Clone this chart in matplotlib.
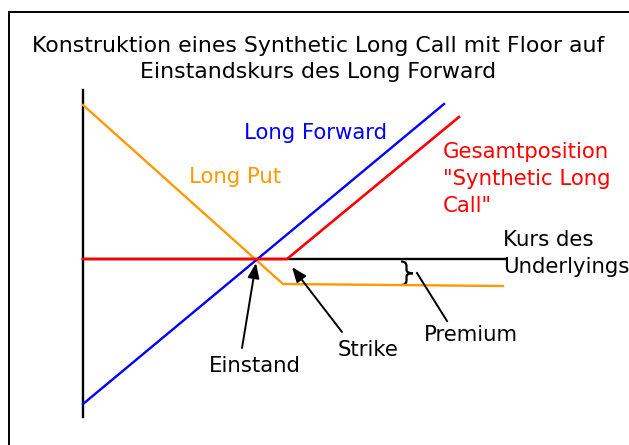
import numpy as np
import matplotlib
matplotlib.use("Agg")
import matplotlib.pyplot as plt
from matplotlib.path import Path
from matplotlib.patches import PathPatch, Rectangle

# --- payoff lines (underlying price on x, profit on y) ---
forward_x = [0.0, 36.1]
forward_y = [-14.5, 15.5]

put_x = [0.0, 20.0, 42.0]
put_y = [15.4, -2.5, -2.7]

total_x = [0.0, 20.4, 37.6]
total_y = [0.0, 0.0, 14.2]

einstand = 17.3
strike = 20.4
premium = 2.6

x_axis_end = 42.2
y_axis_range = [-15.8, 16.9]

ORANGE = "#FF9900"
BLUE = "#0000FF"
RED = "#FF0000"

fig = plt.figure(figsize=(6.29, 4.45), dpi=100)
ax = fig.add_axes([0, 0, 1, 1])
ax.set_xlim(-8.3, 54.6)
ax.set_ylim(-18.6, 25.9)
ax.axis("off")

# frame (cut off at right/bottom like the original slide)
fig.patches.append(Rectangle((9 / 629, -0.1), 1.2, 1 - 12 / 445 + 0.1,
                             transform=fig.transFigure, fill=False,
                             edgecolor="black", linewidth=1.4))

# axes
ax.plot([0, 0], y_axis_range, color="black", lw=1.7, zorder=1)
ax.plot([0, x_axis_end], [0, 0], color="black", lw=1.7, zorder=1)

ax.plot(put_x, put_y, color=ORANGE, lw=1.7, zorder=2)
ax.plot(forward_x, forward_y, color=BLUE, lw=1.7, zorder=3)
ax.plot(total_x, total_y, color=RED, lw=1.9, zorder=4)

fs = 15.3
ax.text(23.5, 20.0, "Konstruktion eines Synthetic Long Call mit Floor auf\nEinstandskurs des Long Forward",
        ha="center", va="center", fontsize=15.8, linespacing=1.38)
ax.text(23.2, 12.6, "Long Forward", color=BLUE, fontsize=fs, ha="center", va="center")
ax.text(15.2, 8.2, "Long Put", color=ORANGE, fontsize=fs, ha="center", va="center")
ax.text(36.0, 8.0, "Gesamtposition\n\"Synthetic Long\nCall\"", color=RED, fontsize=fs,
        ha="left", va="center", linespacing=1.45)
ax.text(42.0, 0.55, "Kurs des\nUnderlyings", fontsize=fs, ha="left", va="center", linespacing=1.4)

# brace marking the premium
bx0, bx1, bx2 = 31.8, 32.35, 33.0
top, bot = -0.25, -premium
mid = (top + bot) / 2
verts = [(bx0, top), (bx1, top), (bx1, top - 0.45),
         (bx1, mid + 0.35),
         (bx1, mid), (bx2, mid),
         (bx1, mid), (bx1, mid - 0.35),
         (bx1, bot + 0.45),
         (bx1, bot), (bx0, bot)]
codes = [Path.MOVETO, Path.CURVE3, Path.CURVE3,
         Path.LINETO,
         Path.CURVE3, Path.CURVE3,
         Path.CURVE3, Path.CURVE3,
         Path.LINETO,
         Path.CURVE3, Path.CURVE3]
ax.add_patch(PathPatch(Path(verts, codes), fill=False, edgecolor="black", lw=1.6))

arrow = dict(arrowstyle="-|>,head_length=0.9,head_width=0.35", color="black", lw=1.4,
             shrinkA=0, shrinkB=0)
ax.annotate("", xy=(einstand, -0.4), xytext=(15.9, -8.9), arrowprops=arrow)
ax.annotate("", xy=(strike + 0.5, -0.8), xytext=(25.9, -7.3), arrowprops=arrow)
ax.plot([33.4, 36.4], [-1.4, -6.2], color="black", lw=1.4)

ax.text(17.2, -10.7, "Einstand", fontsize=fs, ha="center", va="center")
ax.text(28.5, -9.1, "Strike", fontsize=fs, ha="center", va="center")
ax.text(38.8, -7.6, "Premium", fontsize=fs, ha="center", va="center")

fig.savefig("out.png", dpi=100)
